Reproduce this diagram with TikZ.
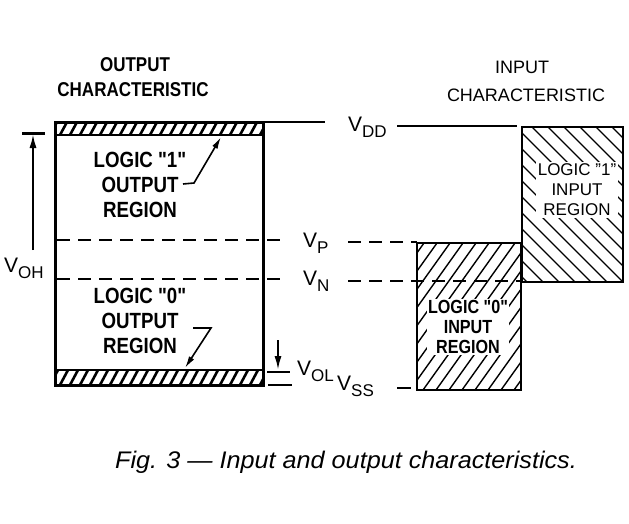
\documentclass[tikz,border=0pt]{standalone}
\usepackage{fontspec}
\setmainfont{Liberation Sans}
\newfontfamily\stencil[FakeStretch=0.85]{Liberation Sans}
\newfontfamily\capfont[ItalicFeatures={FakeStretch=1.05}]{Liberation Sans}
\usetikzlibrary{arrows.meta}
\newcommand\vsub[1]{V\raisebox{-6pt}{\fontsize{17}{17}\selectfont #1}}
\begin{document}
\begin{tikzpicture}[x=1pt,y=-1pt]
\useasboundingbox[fill=white] (0,0) rectangle (629,523);
\tikzset{
 frame/.style={line width=3pt},
 ibox/.style={line width=2.5pt},
 dashln/.style={line width=2.2pt, dash pattern=on 13pt off 8pt},
 hatchthick/.style={line width=2.6pt},
 hatchthin/.style={line width=1.4pt},
 olbl/.style={font=\stencil\bfseries\fontsize{22}{25}\selectfont, align=center, inner sep=1pt},
 ilbl/.style={font=\fontsize{17}{20}\selectfont, align=center, inner sep=1.5pt, fill=white},
 ilblb/.style={font=\stencil\bfseries\fontsize{19}{20}\selectfont, align=center, inner sep=1.5pt, fill=white},
 vlab/.style={font=\fontsize{21}{24}\selectfont, inner sep=0pt, anchor=base west},
 meas/.style={line width=2pt, -{Latex[length=14pt,width=7pt]}},
 lead/.style={line width=1.6pt, -{Latex[length=12pt,width=6pt]}},
}
% ---------- output characteristic box ----------
\coordinate (otl) at (55,122);
\coordinate (obr) at (263,385);
\begin{scope}
 \clip (55,122) rectangle (263,135);
 \foreach \x in {50,60,...,270} \draw[hatchthick] (\x,135) -- (\x+7,122);
\end{scope}
\begin{scope}
 \clip (55,370) rectangle (263,385);
 \foreach \x in {50,60,...,270} \draw[hatchthick] (\x,385) -- (\x+8,370);
\end{scope}
\draw[line width=2pt] (55,135) -- (263,135);
\draw[line width=2pt] (55,370) -- (263,370);
\draw[frame] (otl) rectangle (obr);

% titles
\node[font=\stencil\bfseries\fontsize{20}{22}\selectfont] (ot1) at (135,65) {OUTPUT};
\node[font=\stencil\bfseries\fontsize{20}{22}\selectfont] (ot2) at (133,90) {CHARACTERISTIC};
\node[font=\fontsize{18}{20}\selectfont] (it1) at (522,67) {INPUT};
\node[font=\fontsize{18}{20}\selectfont] (it2) at (526,95) {CHARACTERISTIC};

% output region labels
\node[olbl] (o1) at (140,185) {LOGIC "1"\\OUTPUT\\REGION};
\node[olbl] (o0) at (140,321) {LOGIC "0"\\OUTPUT\\REGION};
\coordinate (o1a) at (194,183);
\coordinate (o1t) at (221,137);
\draw[lead] (183,184) -- (o1a) -- (o1t);
\coordinate (o0a) at (193,328);
\coordinate (o0b) at (211,328);
\coordinate (o0t) at (185,368);
\draw[lead] (o0a) -- (o0b) -- (o0t);

% ---------- input characteristic boxes ----------
\coordinate (i1tl) at (522,127);
\coordinate (i1br) at (623,282);
\begin{scope}
 \clip (i1tl) rectangle (i1br);
 \foreach \x in {356,372,...,640} \draw[hatchthin] (\x,127) -- (\x+160,287);
\end{scope}
\coordinate (i0tl) at (417,243);
\coordinate (i0br) at (521,390);
\begin{scope}
 \clip (i0tl) rectangle (i0br);
 \foreach \x in {306,319,...,540} \draw[hatchthin] (\x,390) -- (\x+110,236);
\end{scope}
\node[ilbl] (i1) at (577,190) {LOGIC "1"\\INPUT\\REGION};
\node[ilblb] (i0) at (468,327) {LOGIC "0"\\INPUT\\REGION};
\draw[ibox] (i1tl) rectangle (i1br);
\draw[ibox] (i0tl) rectangle (i0br);

% ---------- voltage levels ----------
\node[vlab] (vdd) at (348,131) {\vsub{DD}};
\node[vlab] (vp) at (303,247) {\vsub{P}};
\node[vlab] (vn) at (303,285) {\vsub{N}};
\node[vlab] (voh) at (4,272) {\vsub{OH}};
\node[vlab] (vol) at (297,375) {\vsub{OL}};
\node[vlab] (vss) at (337,390) {\vsub{SS}};

\draw[line width=2.4pt] (263,122) -- (325,122);
\draw[line width=1.5pt] (397,126) -- (517,126);
\draw[dashln] (57,240) -- (282,240);
\draw[dashln] (57,279) -- (286,279);
\draw[dashln] (348,242) -- (417,242);
\draw[dashln] (348,281) -- (521,281);
\draw[line width=1.5pt] (397,388) -- (411,388);

% V_OH measure
\draw[line width=3pt] (22,133) -- (45,133);
\draw[meas] (33,250) -- (33,134);
% V_OL measure
\draw[meas] (278,340) -- (278,370);
\draw[line width=2pt] (267,372) -- (290,372);
\draw[line width=2pt] (268,385) -- (292,385);

% caption
\node[font=\capfont\itshape\fontsize{24}{26}\selectfont, anchor=base] (cap) at (346,468) {Fig. 3 — Input and output characteristics.};
\end{tikzpicture}
\end{document}
